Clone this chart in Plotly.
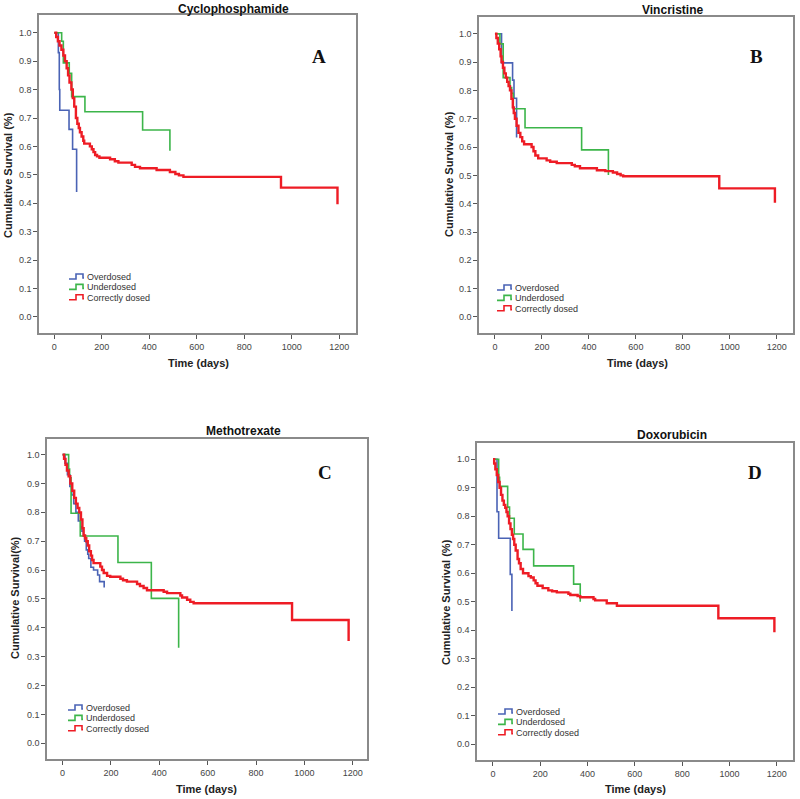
import plotly.graph_objects as go

W, H = 800, 799

titles = ["Cyclophosphamide", "Vincristine", "Methotrexate", "Doxorubicin"]
letters = ["A", "B", "C", "D"]
ytitles = ["Cumulative Survival (%)", "Cumulative Survival (%)",
           "Cumulative Survival(%)", "Cumulative Survival (%)"]
groups = ["Overdosed", "Underdosed", "Correctly dosed"]
x_ticks = [0, 200, 400, 600, 800, 1000, 1200]
y_ticks = [0.0, 0.1, 0.2, 0.3, 0.4, 0.5, 0.6, 0.7, 0.8, 0.9, 1.0]

# ---------------- Panel A: Cyclophosphamide ----------------
a_over_t = [0, 17, 21, 23, 62, 77, 94]
a_over_s = [1.0, 0.93, 0.80, 0.727, 0.66, 0.59, 0.44]
a_under_t = [0, 31, 38, 63, 73, 129, 372, 487]
a_under_s = [1.0, 0.97, 0.894, 0.857, 0.775, 0.722, 0.658, 0.585]
a_corr_t = [0, 8, 15, 22, 30, 38, 45, 52, 58, 64, 72, 78, 84, 91, 97, 103, 108, 115, 122, 126,
            150, 158, 165, 172, 180, 190, 235, 255, 270, 326, 340, 361, 431, 487, 510, 525, 544, 955, 1193]
a_corr_s = [1.0, 0.985, 0.97, 0.955, 0.94, 0.92, 0.90, 0.875, 0.85, 0.825, 0.80, 0.77, 0.74, 0.70, 0.68, 0.665, 0.65, 0.635, 0.62, 0.61,
            0.60, 0.59, 0.58, 0.57, 0.565, 0.56, 0.555, 0.548, 0.543, 0.535, 0.528, 0.523, 0.517, 0.51, 0.503, 0.498, 0.493, 0.455, 0.397]

# ---------------- Panel B: Vincristine ----------------
b_over_t = [0, 28, 75, 81, 92]
b_over_s = [1.0, 0.897, 0.836, 0.772, 0.634]
b_under_t = [0, 21, 35, 64, 71, 78, 128, 369, 483]
b_under_s = [1.0, 0.964, 0.845, 0.81, 0.79, 0.735, 0.668, 0.59, 0.501]
b_corr_t = [0, 6, 12, 18, 24, 28, 34, 40, 46, 52, 58, 64, 70, 76, 80, 85, 92, 100, 108, 116, 124,
            156, 164, 172, 184, 220, 235, 263, 327, 340, 362, 434, 470, 502, 520, 535, 546, 955, 1192]
b_corr_s = [1.0, 0.985, 0.965, 0.945, 0.92, 0.90, 0.88, 0.86, 0.845, 0.83, 0.815, 0.80, 0.77, 0.74, 0.72, 0.70, 0.675, 0.65, 0.635, 0.62, 0.61,
            0.60, 0.585, 0.57, 0.56, 0.553, 0.548, 0.543, 0.537, 0.532, 0.525, 0.518, 0.515, 0.51, 0.505, 0.50, 0.497, 0.454, 0.403]

# ---------------- Panel C: Methotrexate ----------------
c_over_t = [0, 10, 20, 30, 38, 46, 55, 65, 75, 80, 86, 91, 98, 104, 108, 117, 128, 145, 153, 172]
c_over_s = [1.0, 0.97, 0.93, 0.89, 0.86, 0.83, 0.80, 0.77, 0.75, 0.735, 0.72, 0.70, 0.67, 0.655, 0.64, 0.61, 0.60, 0.583, 0.56, 0.54]
c_under_t = [0, 25, 29, 35, 73, 229, 367, 480]
c_under_s = [1.0, 0.95, 0.92, 0.797, 0.718, 0.626, 0.502, 0.331]
c_corr_t = [0, 6, 12, 18, 25, 32, 40, 48, 55, 62, 69, 76, 82, 87, 93, 98, 104, 110, 117, 122, 128,
            156, 163, 170, 184, 197, 239, 250, 266, 308, 320, 335, 349, 418, 432, 487, 494, 515, 528, 542, 949, 1183]
c_corr_s = [1.0, 0.985, 0.965, 0.945, 0.925, 0.90, 0.875, 0.85, 0.83, 0.815, 0.80, 0.775, 0.745, 0.72, 0.71, 0.70, 0.685, 0.665, 0.65, 0.635, 0.624,
            0.612, 0.60, 0.59, 0.58, 0.577, 0.57, 0.565, 0.56, 0.552, 0.545, 0.538, 0.53, 0.525, 0.52, 0.512, 0.505, 0.497, 0.49, 0.485, 0.427, 0.354]

# ---------------- Panel D: Doxorubicin ----------------
d_over_t = [0, 17, 24, 73, 80]
d_over_s = [1.0, 0.816, 0.723, 0.596, 0.468]
d_under_t = [0, 24, 28, 62, 70, 90, 127, 172, 341, 369]
d_under_s = [1.0, 0.937, 0.905, 0.832, 0.793, 0.738, 0.684, 0.626, 0.562, 0.50]
d_corr_t = [0, 5, 10, 16, 22, 28, 34, 40, 46, 52, 57, 62, 68, 74, 80, 85, 90, 96, 104, 110, 117, 127,
            150, 160, 172, 180, 188, 210, 234, 250, 270, 319, 327, 358, 369, 425, 432, 481, 524, 953, 1190]
d_corr_s = [1.0, 0.985, 0.965, 0.945, 0.92, 0.90, 0.875, 0.855, 0.84, 0.83, 0.815, 0.80, 0.775, 0.755, 0.735, 0.72, 0.70, 0.68, 0.65, 0.635, 0.615, 0.60,
            0.59, 0.585, 0.575, 0.565, 0.556, 0.548, 0.54, 0.537, 0.533, 0.528, 0.524, 0.52, 0.516, 0.51, 0.505, 0.495, 0.486, 0.442, 0.393]

series = [
    [(a_over_t, a_over_s), (a_under_t, a_under_s), (a_corr_t, a_corr_s)],
    [(b_over_t, b_over_s), (b_under_t, b_under_s), (b_corr_t, b_corr_s)],
    [(c_over_t, c_over_s), (c_under_t, c_under_s), (c_corr_t, c_corr_s)],
    [(d_over_t, d_over_s), (d_under_t, d_under_s), (d_corr_t, d_corr_s)],
]

# ---------------- styling / layout ----------------
colors = ["#4a63b5", "#3cb54a", "#ee1c25"]
widths = [1.6, 1.6, 2.4]

# panel frames in pixels: left, right, top, bottom
frames = [(39, 356, 15, 333), (479, 793, 17, 333), (47, 367, 439, 759), (477, 793, 443, 760)]
xranges = [(-64.5, 1271), (-68, 1269), (-64.5, 1259), (-67.6, 1268.7)]
yranges = [(-0.0563, 1.0623), (-0.0565, 1.059), (-0.0544, 1.054), (-0.055, 1.057)]
title_pos = [(233, 9), (672, 10), (243, 431), (672, 435)]
letter_pos = [(319, 56), (756, 56), (325, 472), (755, 472)]
ytitle_pos = [(8, 175), (449, 174), (15, 598), (446, 602)]
xtitle_pos = [(198, 363), (637, 363), (207, 789), (635, 789)]
legend_pos = [(69, 277), (497, 288), (68, 708), (498, 712)]  # icon left, first row y
legend_dy = 10.4


def px(x):
    return x / W


def py(y):
    return 1 - y / H


fig = go.Figure()
annotations = []
shapes = []
for i in range(4):
    n = "" if i == 0 else str(i + 1)
    for g in range(3):
        t, s = series[i][g]
        assert len(t) == len(s)
        fig.add_trace(go.Scatter(
            x=t, y=s, mode="lines", line=dict(color=colors[g], width=widths[g], shape="hv"),
            name=groups[g], showlegend=False, xaxis="x" + n, yaxis="y" + n,
        ))
    l, r, tp, b = frames[i]
    axis_common = dict(showgrid=False, zeroline=False, showline=True, mirror=True,
                       linecolor="#8a8a8a", linewidth=1.6, ticks="outside", ticklen=4,
                       tickcolor="#555555", tickwidth=1,
                       tickfont=dict(family="Arial, Liberation Sans", size=9, color="#444444"))
    fig.update_layout(**{
        "xaxis" + n: dict(domain=[px(l), px(r)], range=list(xranges[i]), tickvals=x_ticks,
                          anchor="y" + n, **axis_common),
        "yaxis" + n: dict(domain=[py(b), py(tp)], range=list(yranges[i]), tickvals=y_ticks,
                          tickformat=".1f", anchor="x" + n, **axis_common),
    })
    tx, ty = title_pos[i]
    annotations.append(dict(x=px(tx), y=py(ty), xref="paper", yref="paper", text="<b>%s</b>" % titles[i],
                            showarrow=False, xanchor="center", yanchor="middle",
                            font=dict(family="Arial, Liberation Sans", size=12, color="#111111")))
    lx, ly = letter_pos[i]
    annotations.append(dict(x=px(lx), y=py(ly), xref="paper", yref="paper", text="<b>%s</b>" % letters[i],
                            showarrow=False, xanchor="center", yanchor="middle",
                            font=dict(family="Liberation Serif, Times New Roman", size=19, color="#111111")))
    yx, yy = ytitle_pos[i]
    annotations.append(dict(x=px(yx), y=py(yy), xref="paper", yref="paper", text="<b>%s</b>" % ytitles[i],
                            showarrow=False, xanchor="center", yanchor="middle", textangle=-90,
                            font=dict(family="Arial, Liberation Sans", size=11, color="#222222")))
    xx, xy = xtitle_pos[i]
    annotations.append(dict(x=px(xx), y=py(xy), xref="paper", yref="paper", text="<b>Time (days)</b>",
                            showarrow=False, xanchor="center", yanchor="middle",
                            font=dict(family="Arial, Liberation Sans", size=11, color="#222222")))
    # legend: step glyph + label
    gx, gy = legend_pos[i]
    for g in range(3):
        yrow = gy + g * legend_dy
        path = "M %f,%f L %f,%f L %f,%f L %f,%f L %f,%f L %f,%f" % (
            px(gx), py(yrow + 2), px(gx + 7), py(yrow + 2), px(gx + 7), py(yrow - 3),
            px(gx + 14), py(yrow - 3), px(gx + 14), py(yrow + 1), px(gx + 15), py(yrow + 1))
        shapes.append(dict(type="path", path=path, xref="paper", yref="paper",
                           line=dict(color=colors[g], width=1.6)))
        annotations.append(dict(x=px(gx + 15.5), y=py(yrow), xref="paper", yref="paper", text=groups[g],
                                showarrow=False, xanchor="left", yanchor="middle",
                                font=dict(family="Arial, Liberation Sans", size=9, color="#333333")))

fig.update_layout(width=W, height=H, margin=dict(l=0, r=0, t=0, b=0),
                  paper_bgcolor="white", plot_bgcolor="white",
                  annotations=annotations, shapes=shapes, showlegend=False)

fig.write_html("out.html", config={"displayModeBar": False},
               post_script="document.body.style.margin='0px';document.body.style.overflow='hidden';")
